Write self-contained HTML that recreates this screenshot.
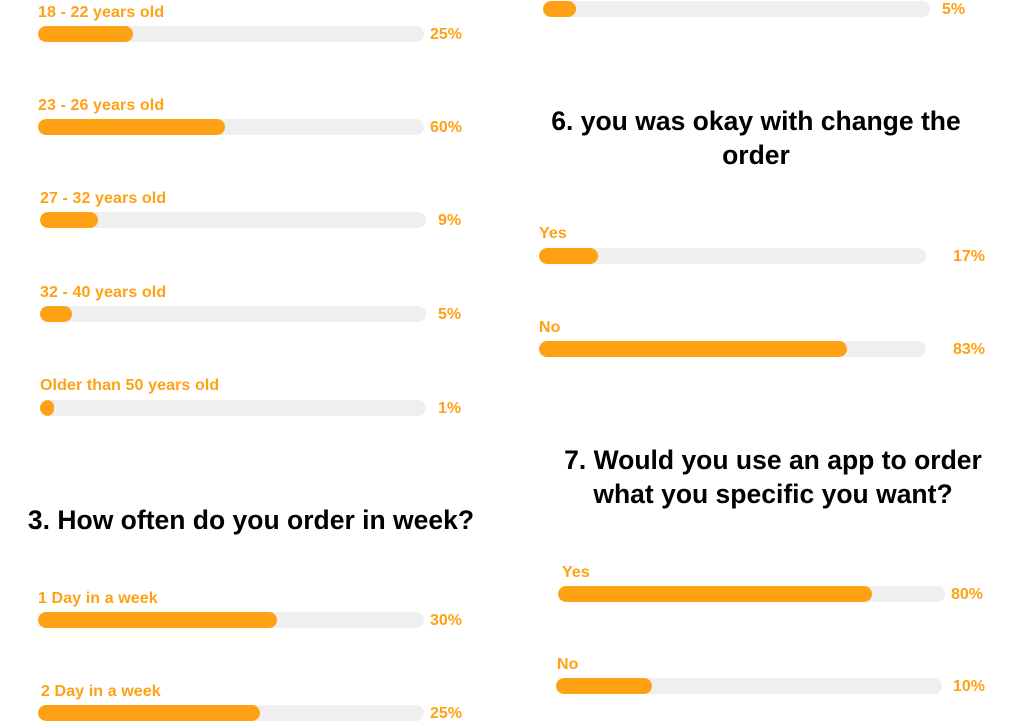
<!DOCTYPE html>
<html><head><style>
body{margin:0;width:1024px;height:728px;background:#fff;position:relative;overflow:hidden;font-family:"Liberation Sans",sans-serif;font-weight:bold}
.l{position:absolute;color:#FFA114;font-size:16px;line-height:18px;white-space:nowrap;letter-spacing:0.1px}
.t{position:absolute;background:#EFEFEF;height:16px;border-radius:8px;overflow:hidden}
.f{height:16px;background:#FFA114;border-radius:8px}
.p{position:absolute;color:#FFA114;font-size:16px;line-height:18px}
.h{position:absolute;color:#000;font-size:26.5px;line-height:34px;text-align:center;white-space:nowrap}
</style></head><body>
<div class="l" style="left:38px;top:4px">18 - 22 years old</div>
<div class="t" style="left:38px;top:26px;width:386px"><div class="f" style="width:95px"></div></div>
<div class="p" style="left:430px;top:26px">25%</div>

<div class="l" style="left:38px;top:97px">23 - 26 years old</div>
<div class="t" style="left:38px;top:119px;width:386px"><div class="f" style="width:187px"></div></div>
<div class="p" style="left:430px;top:119px">60%</div>

<div class="l" style="left:40px;top:190px">27 - 32 years old</div>
<div class="t" style="left:40px;top:212px;width:386px"><div class="f" style="width:58px"></div></div>
<div class="p" style="left:438px;top:212px">9%</div>

<div class="l" style="left:40px;top:284px">32 - 40 years old</div>
<div class="t" style="left:40px;top:306px;width:386px"><div class="f" style="width:32px"></div></div>
<div class="p" style="left:438px;top:306px">5%</div>

<div class="l" style="left:40px;top:377px">Older than 50 years old</div>
<div class="t" style="left:40px;top:400px;width:386px"><div class="f" style="width:14px"></div></div>
<div class="p" style="left:438px;top:400px">1%</div>

<div class="h" style="left:26px;top:503px;width:450px">3. How often do you order in week?</div>

<div class="l" style="left:38px;top:590px">1 Day in a week</div>
<div class="t" style="left:38px;top:612px;width:386px"><div class="f" style="width:239px"></div></div>
<div class="p" style="left:430px;top:612px">30%</div>

<div class="l" style="left:41px;top:683px">2 Day in a week</div>
<div class="t" style="left:38px;top:705px;width:386px"><div class="f" style="width:222px"></div></div>
<div class="p" style="left:430px;top:705px">25%</div>

<div class="t" style="left:543px;top:1px;width:387px"><div class="f" style="width:33px"></div></div>
<div class="p" style="left:942px;top:1px">5%</div>

<div class="h" style="left:540px;top:104px;width:432px">6. you was okay with change the<br>order</div>

<div class="l" style="left:539px;top:225px">Yes</div>
<div class="t" style="left:539px;top:248px;width:387px"><div class="f" style="width:59px"></div></div>
<div class="p" style="left:953px;top:248px">17%</div>

<div class="l" style="left:539px;top:319px">No</div>
<div class="t" style="left:539px;top:341px;width:387px"><div class="f" style="width:308px"></div></div>
<div class="p" style="left:953px;top:341px">83%</div>

<div class="h" style="left:558px;top:443px;width:430px">7. Would you use an app to order<br>what you specific you want?</div>

<div class="l" style="left:562px;top:564px">Yes</div>
<div class="t" style="left:558px;top:586px;width:387px"><div class="f" style="width:314px"></div></div>
<div class="p" style="left:951px;top:586px">80%</div>

<div class="l" style="left:557px;top:656px">No</div>
<div class="t" style="left:556px;top:678px;width:386px"><div class="f" style="width:96px"></div></div>
<div class="p" style="left:953px;top:678px">10%</div>
</body></html>
